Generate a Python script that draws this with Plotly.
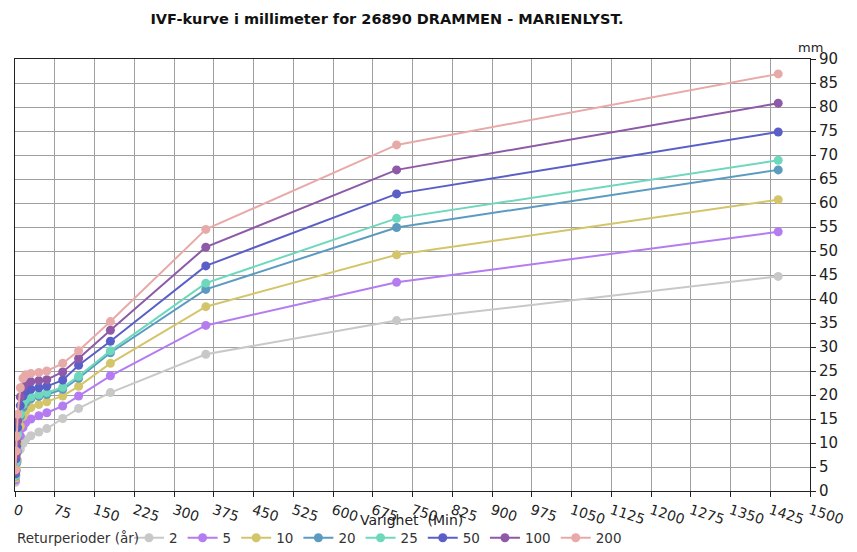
import plotly.graph_objects as go

durations = [1, 2, 3, 5, 10, 15, 20, 30, 45, 60, 90, 120, 180, 360, 720, 1440]

return_periods = ["2", "5", "10", "20", "25", "50", "100", "200"]

v2 = [1.8, 3.2, 4.4, 6.3, 8.7, 9.9, 10.7, 11.5, 12.3, 13.0, 15.1, 17.2, 20.5, 28.5, 35.5, 44.7]
v5 = [2.3, 4.2, 5.8, 8.2, 11.5, 13.2, 14.2, 15.0, 15.7, 16.3, 17.7, 19.8, 24.0, 34.5, 43.5, 54.0]
v10 = [2.7, 5.0, 6.9, 9.8, 13.5, 15.5, 16.5, 17.4, 18.0, 18.6, 19.8, 21.8, 26.6, 38.4, 49.2, 60.7]
v20 = [3.1, 5.8, 8.0, 11.3, 15.5, 17.4, 18.4, 19.2, 19.7, 20.1, 21.2, 23.5, 28.8, 42.0, 54.9, 66.9]
v25 = [3.2, 6.0, 8.3, 11.8, 16.0, 18.0, 19.0, 19.6, 20.1, 20.5, 21.6, 23.9, 29.2, 43.3, 56.8, 68.9]
v50 = [3.6, 6.7, 9.3, 13.2, 17.8, 19.8, 20.7, 21.2, 21.5, 21.8, 23.1, 26.2, 31.2, 46.9, 61.9, 74.8]
v100 = [4.0, 7.5, 10.3, 14.6, 19.6, 21.6, 22.5, 22.8, 23.0, 23.2, 24.8, 27.6, 33.5, 50.8, 66.9, 80.8]
v200 = [4.4, 8.3, 11.4, 16.0, 21.5, 23.5, 24.2, 24.5, 24.7, 25.0, 26.6, 29.2, 35.3, 54.5, 72.1, 86.9]

series = [v2, v5, v10, v20, v25, v50, v100, v200]
colors = ["#c8c8c8", "#b47cf0", "#d4c46a", "#5b9bc0", "#6ed8bc", "#5a5fc8", "#8e5aa8", "#e8aaa8"]

x_ticks = list(range(0, 1501, 75))
y_ticks = list(range(0, 91, 5))

fig = go.Figure()
for name, vals, col in zip(return_periods, series, colors):
    fig.add_trace(go.Scatter(
        x=durations, y=vals, name=name, mode="lines+markers",
        line=dict(color=col, width=2),
        marker=dict(color=col, size=9, symbol="circle"),
    ))

font_family = "DejaVu Sans"

fig.update_layout(
    width=857, height=552,
    margin=dict(l=15, r=47, t=59, b=61, autoexpand=False),
    paper_bgcolor="white", plot_bgcolor="white",
    font=dict(family=font_family, size=12, color="#222"),
    title=dict(text="<b>IVF-kurve i millimeter for 26890 DRAMMEN - MARIENLYST.</b>",
               x=387 / 857, xanchor="center", y=1 - 19 / 552, yanchor="middle",
               font=dict(family=font_family, size=14.5, color="#111")),
    showlegend=True,
    legend=dict(orientation="h", x=129 / 857, xanchor="left", xref="container",
                y=1 - 538 / 552, yref="container", yanchor="middle",
                font=dict(size=13.5, color="#333"), itemwidth=30,
                bgcolor="rgba(0,0,0,0)", tracegroupgap=0),
    xaxis=dict(range=[0, 1500], tickvals=x_ticks, ticktext=[str(t) for t in x_ticks],
               tickangle=18, ticks="outside", ticklen=5, tickcolor="#222",
               showline=True, linecolor="#222", linewidth=1, mirror=True,
               showgrid=True, gridcolor="#a0a0a0", gridwidth=1, zeroline=False,
               automargin=False,
               tickfont=dict(size=14, color="#222")),
    yaxis=dict(range=[0, 90], tickvals=y_ticks, side="right",
               ticks="outside", ticklen=5, tickcolor="#222",
               showline=True, linecolor="#222", linewidth=1, mirror=True,
               showgrid=True, gridcolor="#a0a0a0", gridwidth=1, zeroline=False,
               automargin=False,
               tickfont=dict(size=15, color="#222")),
    annotations=[
        dict(text="mm", xref="paper", yref="paper", x=1, y=1, xanchor="center",
             yanchor="bottom", yshift=2, showarrow=False, font=dict(size=13, color="#222")),
        dict(text="Varighet  (Min)", xref="paper", yref="paper", x=(411 - 15) / 795, y=0,
             xanchor="center", yanchor="middle", yshift=-29, showarrow=False,
             font=dict(size=14, color="#222")),
        dict(text="Returperioder (år)", xref="paper", yref="paper", x=0, y=0,
             xanchor="left", yanchor="middle", yshift=-(538 - 491), showarrow=False,
             font=dict(size=13.5, color="#333")),
    ],
)

fig.write_html("out.html", config={"displayModeBar": False},
               post_script="document.body.style.margin='0';")
